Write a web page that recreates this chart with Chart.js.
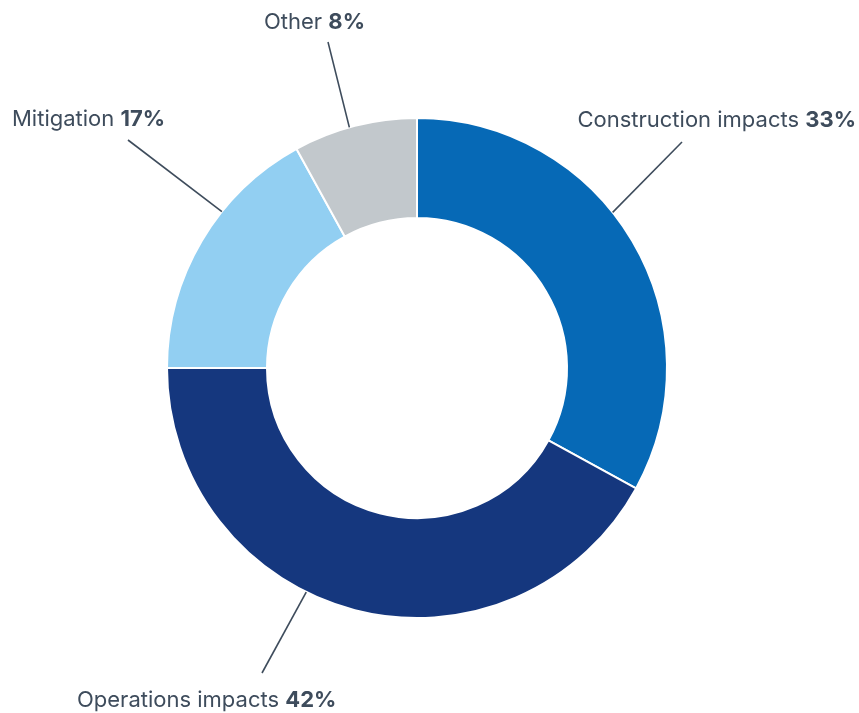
<!DOCTYPE html>
<html>
<head>
<meta charset="utf-8">
<script src="https://cdn.jsdelivr.net/npm/chart.js@4/dist/chart.umd.min.js"></script>
<style>
  html, body { margin: 0; padding: 0; background: #fff; }
  #wrap { width: 859px; height: 713px; position: relative; }
</style>
</head>
<body>
<div id="wrap"><canvas id="c"></canvas></div>
<script>
// Share of comments by topic
const LABELS = ["Construction impacts", "Operations impacts", "Mitigation", "Other"];
const VALUES = [33, 42, 17, 8];
const COLORS = ["#0669b6", "#15377e", "#92cff2", "#c2c8cc"];

// leader lines: angle on the ring (deg from top, clockwise), outer end and text spot, relative to centre
const CALLOUTS = [
  { angle: 51.5, end: [265, -226], text: [439, -248], align: "right" },
  { angle: 206.3, end: [-155, 305], text: [-340, 332], align: "left" },
  { angle: 308.7, end: [-289, -228], text: [-405, -249], align: "left" },
  { angle: 344.3, end: [-89, -326], text: [-153, -346], align: "left" },
];

const INK = "#3e4c5c";
const FONT = "Inter";
const SIZE = 22;

const callouts = {
  id: "callouts",
  afterDraw(chart) {
    const ctx = chart.ctx;
    const arc = chart.getDatasetMeta(0).data[0];
    const cx = arc.x, cy = arc.y, R = arc.outerRadius;
    ctx.save();
    ctx.strokeStyle = INK;
    ctx.lineWidth = 1.6;
    ctx.fillStyle = INK;
    ctx.textBaseline = "middle";
    CALLOUTS.forEach((c, i) => {
      const a = c.angle * Math.PI / 180;
      ctx.beginPath();
      ctx.moveTo(cx + R * Math.sin(a), cy - R * Math.cos(a));
      ctx.lineTo(cx + c.end[0], cy + c.end[1]);
      ctx.stroke();

      const name = LABELS[i] + " ";
      const pct = VALUES[i] + "%";
      ctx.font = `400 ${SIZE}px ${FONT}`;
      const w1 = ctx.measureText(name).width;
      ctx.font = `700 ${SIZE}px ${FONT}`;
      const w2 = ctx.measureText(pct).width;
      let x = cx + c.text[0];
      const y = cy + c.text[1];
      if (c.align === "right") x -= w1 + w2;
      ctx.textAlign = "left";
      ctx.font = `400 ${SIZE}px ${FONT}`;
      ctx.fillText(name, x, y);
      ctx.font = `700 ${SIZE}px ${FONT}`;
      ctx.fillText(pct, x + w1, y);
    });
    ctx.restore();
  },
};

new Chart(document.getElementById("c"), {
  type: "doughnut",
  data: {
    labels: LABELS,
    datasets: [{ data: VALUES, backgroundColor: COLORS, borderColor: "#fff", borderWidth: 2 }],
  },
  options: {
    responsive: true,
    maintainAspectRatio: false,
    animation: false,
    cutout: "60%",
    layout: { padding: { top: 117, bottom: 94, left: 166, right: 191 } },
    plugins: { legend: { display: false }, tooltip: { enabled: false } },
  },
  plugins: [callouts],
});
</script>
</body>
</html>
